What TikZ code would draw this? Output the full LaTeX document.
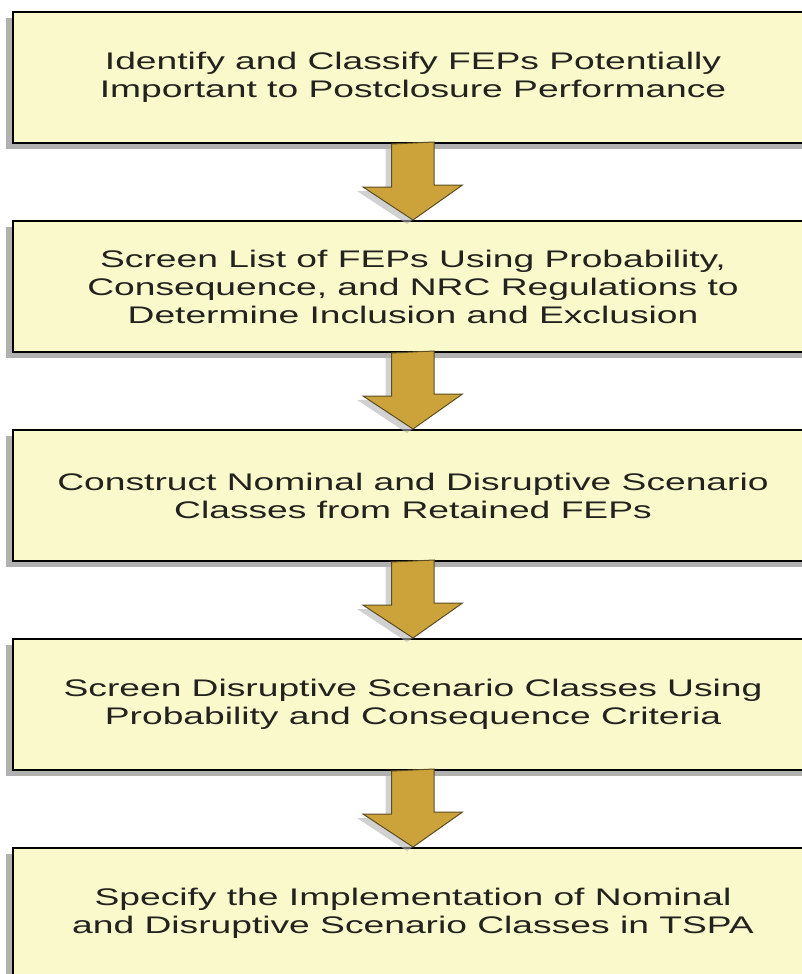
\documentclass[tikz,border=0pt]{standalone}
\usepackage{fontspec}
\newfontfamily\boxfont{Liberation Sans}[FakeStretch=1.55]
\usepackage{tikz}
\usetikzlibrary{shadows}
\definecolor{boxfill}{RGB}{250,249,204}
\definecolor{boxtext}{RGB}{34,34,30}
\definecolor{arrowgold}{RGB}{203,163,58}
\definecolor{arrowmid}{RGB}{222,158,62}
\definecolor{arrowedge}{RGB}{92,78,34}
\begin{document}
\begin{tikzpicture}[x=1pt,y=-1pt]
   \useasboundingbox (0,0) rectangle (802,974);
   \clip (0,0) rectangle (802,974);
   \tikzstyle{stage}=[rectangle, draw=black, line width=2pt, fill=boxfill, text=boxtext,
      minimum width=800pt, minimum height=131pt, inner sep=0pt, align=center,
      font=\boxfont\fontsize{24}{28}\selectfont,
      drop shadow={shadow xshift=-7pt, shadow yshift=-6pt, fill=black!38, opacity=.8}]
   \tikzstyle{goldarrow}=[draw=arrowedge, line width=1pt, line join=miter,
      left color=arrowgold, middle color=arrowmid, right color=arrowgold,
      drop shadow={shadow xshift=-6pt, shadow yshift=-4pt, fill=black!30, opacity=.6}]
   \foreach \i/\txt in {1/{Identify and Classify FEPs Potentially\\Important to Postclosure Performance},
                        2/{Screen List of FEPs Using Probability,\\Consequence, and NRC Regulations to\\Determine Inclusion and Exclusion},
                        3/{Construct Nominal and Disruptive Scenario\\Classes from Retained FEPs},
                        4/{Screen Disruptive Scenario Classes Using\\Probability and Consequence Criteria},
                        5/{Specify the Implementation of Nominal\\and Disruptive Scenario Classes in TSPA}} {
       \node[stage] (b\i) at (413,{77.5+209*(\i-1)}) {\txt};
   }
   % block arrows between the stages
   \foreach \i/\j in {1/2,2/3,3/4,4/5} {
       \draw[goldarrow] (b\i.south) ++(-21.5,0) -- ++(0,43) -- ++(-28.5,0) -- (b\j.north)
          -- ++(49.5,-35) -- ++(-28.5,0) -- ++(0,-43) -- cycle;
   }
\end{tikzpicture}
\end{document}
